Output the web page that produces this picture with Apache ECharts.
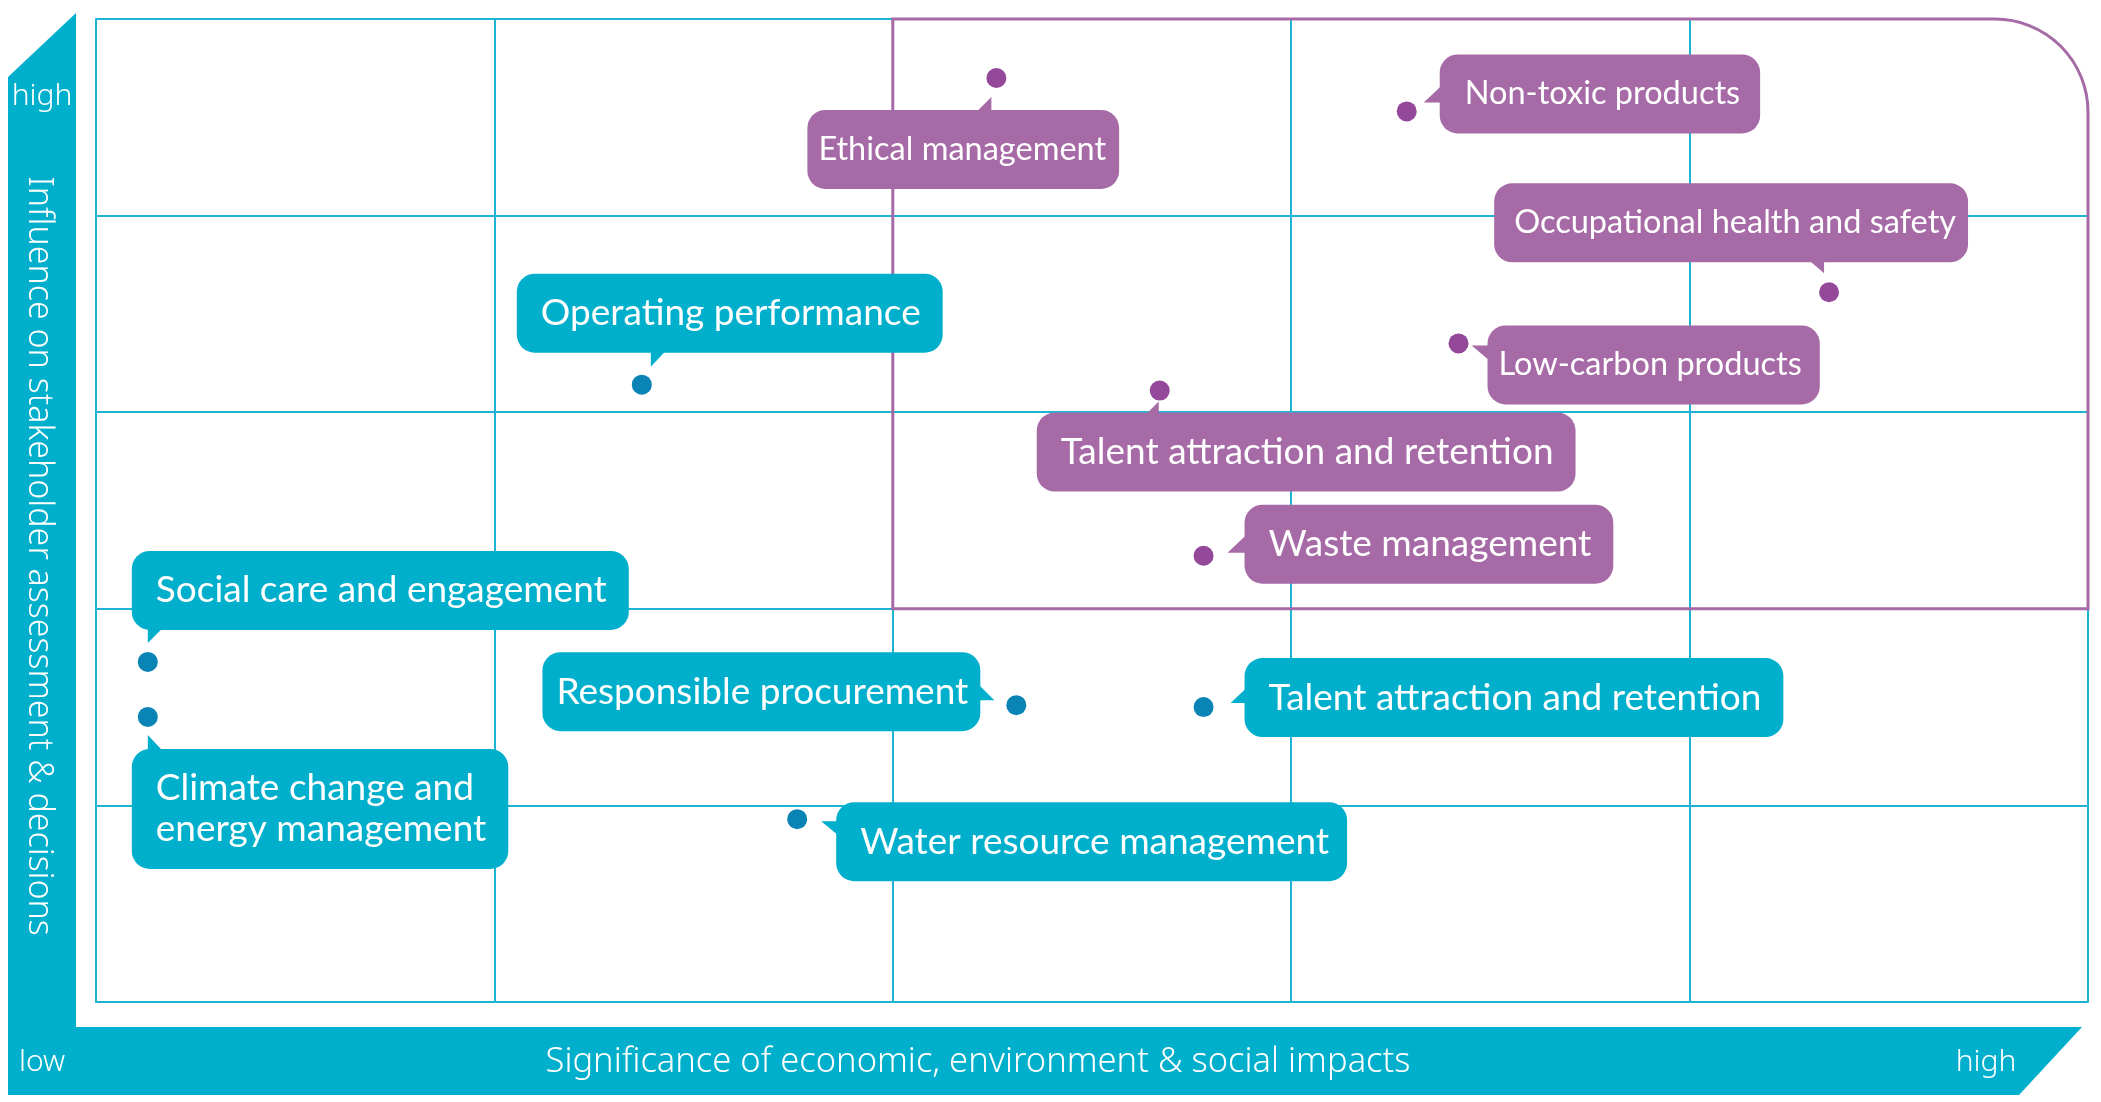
<!DOCTYPE html>
<html><head><meta charset="utf-8">
<script src="https://cdn.jsdelivr.net/npm/echarts@6/dist/echarts.min.js"></script>
<style>html,body{margin:0;padding:0;background:#fff}#c{width:2101px;height:1102px}</style>
</head><body><div id="c"></div>
<script>
// ---- data ----
const topics = [
  'Operating performance',
  'Social care and engagement',
  'Climate change and\nenergy management',
  'Responsible procurement',
  'Talent attraction and retention',
  'Water resource management',
  'Ethical management',
  'Non-toxic products',
  'Occupational health and safety',
  'Low-carbon products',
  'Talent attraction and retention',
  'Waste management'
];
const significance = [1.37, 0.13, 0.13, 2.31, 2.78, 1.76, 2.26, 3.29, 4.35, 3.42, 2.67, 2.78];
const influence    = [3.14, 1.73, 1.45, 1.51, 1.50, 0.93, 4.70, 4.53, 3.61, 3.35, 3.11, 2.27];
const groups = ['general','general','general','general','general','general',
                'material','material','material','material','material','material'];
const materialZone = [2, 2, 5, 5]; // xFrom, yFrom, xTo, yTo
const xTickLabels = ['low', 'high'];
const yTickLabels = ['low', 'high'];
const xTitle = 'Significance of economic, environment & social impacts';
const yTitle = 'Influence on stakeholder assessment & decisions';

// ---- styles / layout ----
const palette = {
  general:  { box: '#00afcb', dot: '#0a84b4' },
  material: { box: '#a66aa6', dot: '#93489a' }
};
const CYAN = '#00afcb', GRID = '#1cb4d2', FRAME = '#a66aa6';
const labelFont = 'Lato, "Noto Sans", sans-serif';
const bandFont = '"Noto Sans", "Open Sans", sans-serif';
const BIG = 37, SMALL = 32.5;
const PAD = [19, 22, 19, 24];
// box anchor offsets relative to the point + pointer triangle offsets
const labelLayout = [
  { fs: BIG,   pad: PAD,              a: 'left',  v: 'bottom', dx: -125, dy: -32, ptr: [[9,-18],[9,-34],[24,-34]] },
  { fs: BIG,   pad: PAD,              a: 'left',  v: 'bottom', dx: -16,  dy: -32, ptr: [[0,-19],[0,-34],[15,-34]] },
  { fs: BIG,   pad: PAD,              a: 'left',  v: 'top',    dx: -16,  dy: 32,  ptr: [[0,18],[0,34],[15,34]] },
  { fs: BIG,   pad: [19, 12, 19, 14], a: 'right', v: 'top',    dx: -36,  dy: -53, ptr: [[-22,-5],[-38,-5],[-38,-21]] },
  { fs: BIG,   pad: PAD,              a: 'left',  v: 'top',    dx: 41,   dy: -49, ptr: [[27,-4],[43,-4],[43,-19]] },
  { fs: BIG,   pad: [19, 18, 19, 24], a: 'left',  v: 'top',    dx: 39,   dy: -17, ptr: [[24,2],[41,2],[41,16]] },
  { fs: SMALL, pad: [19, 13, 19, 11], a: 'left',  v: 'top',    dx: -189, dy: 32,  ptr: [[-5,19],[-5,34],[-20,34]] },
  { fs: SMALL, pad: [19, 20, 19, 25], a: 'left',  v: 'top',    dx: 33,   dy: -57, ptr: [[17,-9],[35,-9],[35,-26]] },
  { fs: SMALL, pad: [19, 12, 19, 20], a: 'right', v: 'bottom', dx: 139,  dy: -30, ptr: [[-5,-19],[-5,-32],[-20,-32]] },
  { fs: SMALL, pad: [19, 18, 19, 11], a: 'left',  v: 'top',    dx: 29,   dy: -18, ptr: [[13,2],[31,2],[31,17]] },
  { fs: BIG,   pad: PAD,              a: 'left',  v: 'top',    dx: -123, dy: 22,  ptr: [[-1,11],[-1,24],[-14,24]] },
  { fs: BIG,   pad: PAD,              a: 'left',  v: 'top',    dx: 41,   dy: -51, ptr: [[24,-3],[43,-3],[43,-21]] }
];

const chart = echarts.init(document.getElementById('c'), null, { renderer: 'canvas' });

const points = topics.map((t, i) => [significance[i], influence[i]]);

const option = {
  backgroundColor: '#fff',
  animation: false,
  grid: { left: 96, right: 13, top: 19, bottom: 100 },
  xAxis: {
    type: 'value', min: 0, max: 5, interval: 1,
    axisLine: { show: true, lineStyle: { color: GRID, width: 2 } },
    axisTick: { show: false }, axisLabel: { show: false },
    splitLine: { show: true, lineStyle: { color: GRID, width: 2 } }
  },
  yAxis: {
    type: 'value', min: 0, max: 5, interval: 1,
    axisLine: { show: true, lineStyle: { color: GRID, width: 2 } },
    axisTick: { show: false }, axisLabel: { show: false },
    splitLine: { show: true, lineStyle: { color: GRID, width: 2 } }
  },
  graphic: [
    { type: 'polygon', z: 1, shape: { points: [[8,77],[76,13],[76,1027],[2082,1027],[2019,1095],[8,1095]] },
      style: { fill: CYAN } },
    { type: 'text', z: 2, x: 42, y: 96, style: { text: yTickLabels[1], fill: '#fff', font: '300 30px ' + bandFont, align: 'center', verticalAlign: 'middle' } },
    { type: 'text', z: 2, x: 19, y: 1062, style: { text: xTickLabels[0], fill: '#fff', font: '300 30px ' + bandFont, align: 'left', verticalAlign: 'middle' } },
    { type: 'text', z: 2, x: 1986, y: 1062, style: { text: xTickLabels[1], fill: '#fff', font: '300 30px ' + bandFont, align: 'center', verticalAlign: 'middle' } },
    { type: 'text', z: 2, x: 978, y: 1062, style: { text: xTitle, fill: '#fff', font: '300 34.5px ' + bandFont, align: 'center', verticalAlign: 'middle' } },
    { type: 'text', z: 2, x: 39, y: 556, rotation: -Math.PI / 2, style: { text: yTitle, fill: '#fff', font: '300 34px ' + bandFont, align: 'center', verticalAlign: 'middle' } }
  ],
  series: [
    {
      type: 'custom', z: 3, clip: false, silent: true,
      data: [materialZone],
      renderItem: function (params, api) {
        const bl = api.coord([api.value(0), api.value(1)]);
        const tr = api.coord([api.value(2), api.value(3)]);
        const r = 93;
        const x0 = bl[0], y0 = bl[1], x1 = tr[0], y1 = tr[1];
        return { type: 'group', children: [
          { type: 'path', shape: { pathData:
              'M' + (x1 - r) + ' ' + (y1 - 6) + ' L' + (x1 + 6) + ' ' + (y1 - 6) + ' L' + (x1 + 6) + ' ' + (y1 + r) +
              ' L' + x1 + ' ' + (y1 + r) + ' A' + r + ' ' + r + ' 0 0 0 ' + (x1 - r) + ' ' + y1 + ' Z' },
            style: { fill: '#fff', stroke: null } },
          { type: 'path', shape: { pathData:
              'M' + x0 + ' ' + y0 + ' L' + x0 + ' ' + y1 + ' L' + (x1 - r) + ' ' + y1 +
              ' A' + r + ' ' + r + ' 0 0 1 ' + x1 + ' ' + (y1 + r) + ' L' + x1 + ' ' + y0 + ' Z' },
            style: { fill: 'none', stroke: FRAME, lineWidth: 3 } }
        ] };
      }
    },
    {
      type: 'custom', z: 5, clip: false, silent: true,
      data: points,
      renderItem: function (params, api) {
        const i = params.dataIndex;
        const p = api.coord([api.value(0), api.value(1)]);
        const L = labelLayout[i];
        const col = palette[groups[i]];
        return { type: 'group', children: [
          { type: 'polygon', shape: { points: L.ptr.map(d => [p[0] + d[0], p[1] + d[1]]) },
            style: { fill: col.box } },
          { type: 'text', x: p[0] + L.dx, y: p[1] + L.dy,
            style: { text: topics[i], fill: '#fff', fontFamily: labelFont, fontSize: L.fs,
              lineHeight: 41, backgroundColor: col.box, padding: L.pad, borderRadius: 18,
              align: L.a, verticalAlign: L.v, textAlign: L.a, textVerticalAlign: L.v } },
          { type: 'circle', shape: { cx: p[0], cy: p[1], r: 10 }, style: { fill: col.dot } }
        ] };
      }
    }
  ]
};
chart.setOption(option);
</script>
</body></html>
